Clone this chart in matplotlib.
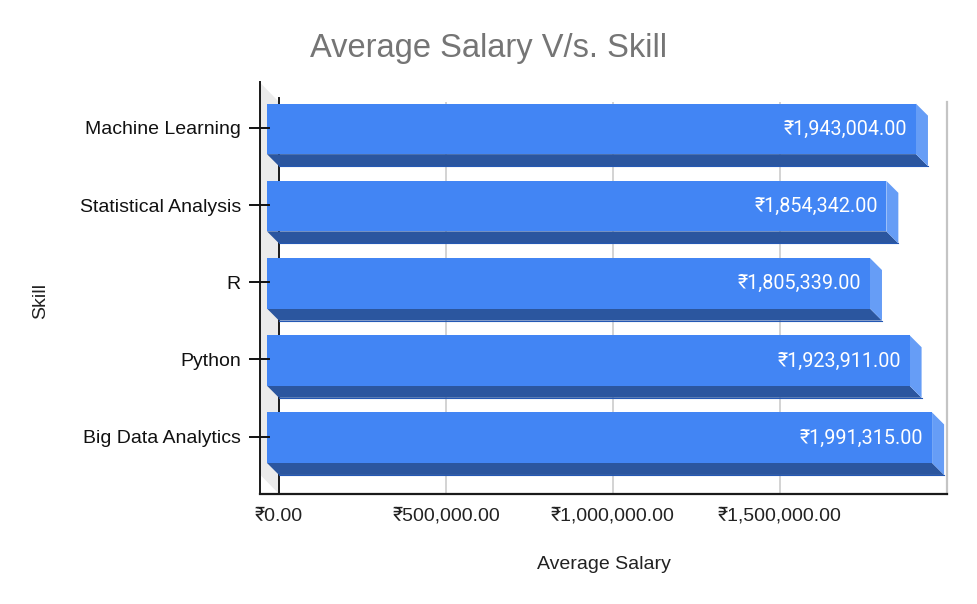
import matplotlib
matplotlib.use("Agg")
import matplotlib.pyplot as plt
from matplotlib.patches import Polygon

SANS = ['Liberation Sans', 'Roboto', 'DejaVu Sans']
LABEL = ['Roboto', 'DejaVu Sans']
plt.rcParams['font.family'] = SANS

skills = ["Big Data Analytics", "Python", "R", "Statistical Analysis", "Machine Learning"]
salaries = [1991315, 1923911, 1805339, 1854342, 1943004]
salary_labels = ["₹1,991,315.00", "₹1,923,911.00", "₹1,805,339.00", "₹1,854,342.00", "₹1,943,004.00"]
xticks = [0, 500000, 1000000, 1500000]
xtick_labels = ["₹0.00", "₹500,000.00", "₹1,000,000.00", "₹1,500,000.00"]

W, H = 977, 604
fig = plt.figure(figsize=(W/100, H/100), dpi=100)
L, R, T, B = 279, 947, 102, 494
ax = fig.add_axes([L/W, 1-B/H, (R-L)/W, (B-T)/H])
ax.set_xlim(0, 2000000)
px_per_unit = 77.2
y0 = 436.7
ax.set_ylim(-(B-y0)/px_per_unit, (y0-T)/px_per_unit)
for s in ax.spines.values():
    s.set_visible(False)

FRONT = '#4285f4'; BOTTOM = '#2b569f'; SIDE = '#669df6'; EDGE = '#2458b4'
dxpx = 12; dypx = 12
ux = 2000000/(R-L)
uy = 1/px_per_unit
bh = 50.5/px_per_unit
bar_shift = -1.0*uy

# side wall
wx, wy = 19.5*ux, 20/(B-T)
xf = ax.get_xaxis_transform()
ax.add_patch(Polygon([(0, 1), (0, 0), (-wx, wy), (-wx, 1+wy)], closed=True,
                     fc='#ebebeb', ec='none', transform=xf, clip_on=False, zorder=1))
# grid
for v in xticks[1:]:
    ax.plot([v, v], [0, 1], color='#c8c8c8', lw=1.1, transform=xf, zorder=1)
ax.plot([2000000, 2000000], [0, 1], color='#c4c4c4', lw=1.6, transform=xf, zorder=1, clip_on=False)
ax.plot([0, 0], [0, 1.01], color='#1a1a1a', lw=1.4, transform=xf, zorder=2, clip_on=False)
ax.plot([-wx, -wx], [0, 1+wy], color='#1a1a1a', lw=1.4, transform=xf, zorder=2, clip_on=False)
ax.plot([-wx, 2000000], [0, 0], color='#1a1a1a', lw=1.6, transform=xf, zorder=2, clip_on=False)

# bars
dx = dxpx*ux; dy = dypx*uy
for i, (v, lab) in enumerate(zip(salaries, salary_labels)):
    c = i + bar_shift
    top, bot = c+bh/2, c-bh/2
    ax.add_patch(Polygon([(-dx, bot), (v-dx, bot), (v, bot-dy), (0, bot-dy)],
                         fc=BOTTOM, ec='none', zorder=3, clip_on=False))
    ax.plot([0, v], [bot-dy, bot-dy], color=EDGE, lw=0.8, zorder=3.2, clip_on=False)
    ax.add_patch(Polygon([(v-dx, top), (v, top-dy), (v, bot-dy), (v-dx, bot)],
                         fc=SIDE, ec='none', zorder=3.3, clip_on=False))
    ax.barh(c, v, left=-dx, height=bh, color=FRONT, zorder=4, clip_on=False)
    ax.text(v-dx-8.5*ux, i-1.5*uy, lab, color='white', ha='right', va='center', fontsize=14.2,
            zorder=5, family=LABEL)

# ticks
ax.set_yticks(range(len(skills)))
ax.set_yticklabels(skills, fontsize=14, color='#111111')
ax.tick_params(axis='y', length=0, pad=27.5)
for i in range(len(skills)):
    ax.plot([-29.5*ux, -10.5*ux], [i, i], color='#111111', lw=1.4, zorder=6, clip_on=False)

ax.set_xticks(xticks)
ax.set_xticklabels(xtick_labels, fontsize=14, color='#222222')
ax.tick_params(axis='x', length=0, pad=10)

fig.text(603.5/W, 1-564.5/H, "Average Salary", ha='center', va='center', fontsize=14, color='#222222')
fig.text(41/W, 1-301/H, "Skill", ha='center', va='center', rotation=90, fontsize=14, color='#222222')
fig.text(310/W, 1-48.5/H, "Average Salary V/s. Skill", ha='left', va='center', fontsize=23.5,
         color='#757575')

fig.savefig("out.png", dpi=100)
